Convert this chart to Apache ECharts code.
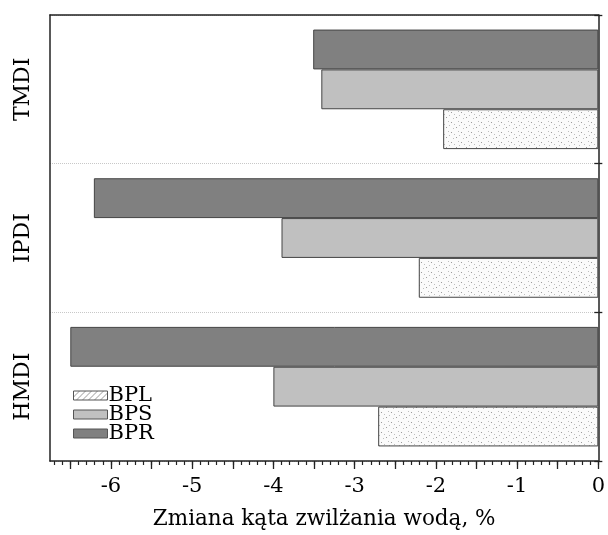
<!DOCTYPE html>
<html>
<head>
<meta charset="utf-8">
<script src="https://cdn.jsdelivr.net/npm/echarts@6/dist/echarts.min.js"></script>
<style>
html,body{margin:0;padding:0;background:#fff;}
#chart{width:608px;height:535px;}
</style>
</head>
<body>
<div id="chart"></div>
<script>
// ---- data ----
var categories = ['HMDI', 'IPDI', 'TMDI'];           // bottom to top
var seriesNames = ['BPR', 'BPS', 'BPL'];             // top to bottom inside a group
var valuesBPR = [-6.50, -6.21, -3.51];
var valuesBPS = [-4.00, -3.90, -3.41];
var valuesBPL = [-2.71, -2.21, -1.91];
var legendOrder = ['BPL', 'BPS', 'BPR'];
var xLabelValues = [-6, -5, -4, -3, -2, -1, 0];
var xMin = -6.75, xMax = 0;
var majorTickValues = [-6.5, -6, -5.5, -5, -4.5, -4, -3.5, -3, -2.5, -2, -1.5, -1, -0.5, 0];
var minorTickValues = [];
for (var i = -67; i <= 0; i++) minorTickValues.push(i / 10);
var xAxisTitle = 'Zmiana kąta zwilżania wodą, %';

// ---- patterns ----
function dotPattern() {
  var c = document.createElement('canvas'); c.width = 10; c.height = 10;
  var g = c.getContext('2d');
  g.fillStyle = '#fafafa'; g.fillRect(0, 0, 10, 10);
  g.fillStyle = '#9a9a9a';
  g.fillRect(1, 2, 1, 1); g.fillRect(6, 7, 1, 1);
  g.fillStyle = '#bdbdbd';
  g.fillRect(4, 4, 1, 1); g.fillRect(8, 1, 1, 1); g.fillRect(3, 8, 1, 1); g.fillRect(9, 5, 1, 1);
  return c;
}
function hatchPattern() {
  var c = document.createElement('canvas'); c.width = 6; c.height = 6;
  var g = c.getContext('2d');
  g.fillStyle = '#ffffff'; g.fillRect(0, 0, 6, 6);
  g.strokeStyle = '#999'; g.lineWidth = 1;
  g.beginPath(); g.moveTo(0, 6); g.lineTo(6, 0); g.stroke();
  g.beginPath(); g.moveTo(-3, 3); g.lineTo(3, -3); g.stroke();
  g.beginPath(); g.moveTo(3, 9); g.lineTo(9, 3); g.stroke();
  return c;
}

var FONT = 'DejaVu Serif';
var LINE = '#222';
var colors = {
  BPR: '#808080',
  BPS: '#c0c0c0',
  BPL: { image: dotPattern(), repeat: 'repeat' }
};
var dataMap = { BPR: valuesBPR, BPS: valuesBPS, BPL: valuesBPL };

var chart = echarts.init(document.getElementById('chart'), null, { renderer: 'canvas' });

var series = seriesNames.map(function (n) {
  return {
    name: n, type: 'bar', xAxisIndex: 0, yAxisIndex: 0,
    data: dataMap[n],
    barGap: '0%', barCategoryGap: '19.6%',
    itemStyle: { color: colors[n], borderColor: '#444', borderWidth: 1 },
    emphasis: { disabled: true },
    silent: true
  };
});

var option = {
  animation: false,
  backgroundColor: '#ffffff',
  grid: { left: 50, right: 9, top: 15, bottom: 72, containLabel: false },
  legend: {
    orient: 'vertical', left: 73, top: 385, padding: 0,
    icon: 'rect',
    itemWidth: 34, itemHeight: 9, itemGap: -2,
    selectedMode: false,
    textStyle: { fontFamily: FONT, fontSize: 21, color: '#000', lineHeight: 18, padding: [0, 0, 0, -4] },
    data: [
      { name: 'BPL', icon: 'rect', itemStyle: { color: { image: hatchPattern(), repeat: 'repeat' }, borderColor: '#555', borderWidth: 1 } },
      { name: 'BPS', icon: 'rect', itemStyle: { color: '#c0c0c0', borderColor: '#555', borderWidth: 1 } },
      { name: 'BPR', icon: 'rect', itemStyle: { color: '#808080', borderColor: '#555', borderWidth: 1 } }
    ]
  },
  xAxis: [
    {
      type: 'value', position: 'bottom', min: xMin, max: xMax,
      axisLine: { show: true, onZero: false, lineStyle: { color: LINE, width: 1.5 } },
      axisTick: { show: true, customValues: majorTickValues, length: 8, lineStyle: { color: LINE, width: 1.3 } },
      axisLabel: { show: true, customValues: xLabelValues, margin: 15, fontFamily: FONT, fontSize: 21, color: '#000' },
      splitLine: { show: false },
      name: xAxisTitle, nameLocation: 'middle', nameGap: 47,
      nameTextStyle: { fontFamily: FONT, fontSize: 21.5, color: '#000' }
    },
    {
      type: 'value', position: 'bottom', min: xMin, max: xMax,
      axisLine: { show: false, onZero: false },
      axisTick: { show: true, customValues: minorTickValues, length: 4, lineStyle: { color: LINE, width: 1.2 } },
      axisLabel: { show: false },
      splitLine: { show: false }
    },
    {
      type: 'value', position: 'top', min: xMin, max: xMax,
      axisLine: { show: true, onZero: false, lineStyle: { color: LINE, width: 1.5 } },
      axisTick: { show: false }, axisLabel: { show: false }, splitLine: { show: false }
    }
  ],
  yAxis: [
    {
      type: 'category', position: 'left', data: categories,
      axisLine: { show: true, onZero: false, lineStyle: { color: LINE, width: 1.5 } },
      axisTick: { show: false },
      axisLabel: { rotate: 90, margin: 16, fontFamily: FONT, fontSize: 22, color: '#000' },
      splitLine: { show: true, lineStyle: { color: '#c8c8c8', type: 'dotted', width: 1 } }
    },
    {
      type: 'category', position: 'right', data: categories,
      axisLine: { show: true, onZero: false, lineStyle: { color: LINE, width: 1.5 } },
      axisTick: { show: true, length: 4, lineStyle: { color: LINE, width: 1.3 } },
      axisLabel: { show: false }, splitLine: { show: false }
    },
    {
      type: 'category', position: 'right', data: categories,
      axisLine: { show: false, onZero: false },
      axisTick: { show: true, inside: true, length: 4, lineStyle: { color: LINE, width: 1.3 } },
      axisLabel: { show: false }, splitLine: { show: false }
    }
  ],
  series: series
};
chart.setOption(option);
</script>
</body>
</html>
